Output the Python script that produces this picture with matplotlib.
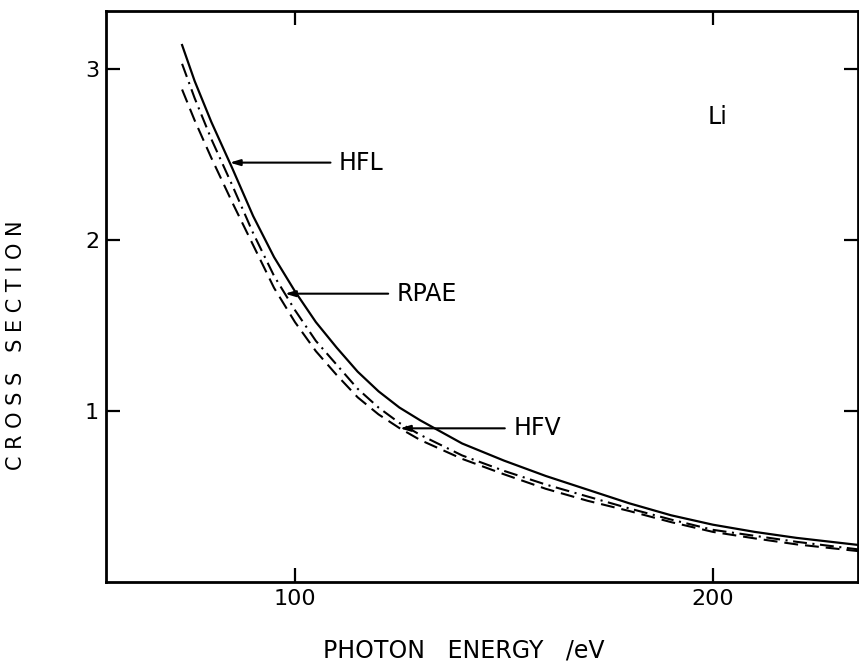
import numpy as np
import matplotlib
matplotlib.use("Agg")
import matplotlib.pyplot as plt

plt.rcParams['font.family'] = ['DejaVu Sans']
plt.rcParams['lines.scale_dashes'] = False

# Photon energy (eV)
energy = [73, 76, 80, 85, 90, 95, 100, 105, 110, 115, 120, 125, 130, 140,
          150, 160, 170, 180, 190, 200, 210, 220, 235]
# Cross sections
hfl = [3.14, 2.93, 2.69, 2.42, 2.14, 1.90, 1.70, 1.52, 1.37, 1.23, 1.115, 1.02,
       0.945, 0.81, 0.71, 0.62, 0.54, 0.46, 0.39, 0.335, 0.293, 0.258, 0.216]
rpae = [3.03, 2.83, 2.59, 2.32, 2.04, 1.79, 1.59, 1.41, 1.27, 1.13, 1.02, 0.93,
        0.86, 0.74, 0.65, 0.57, 0.50, 0.43, 0.365, 0.305, 0.27, 0.235, 0.19]
hfv = [2.88, 2.70, 2.48, 2.22, 1.97, 1.72, 1.52, 1.35, 1.21, 1.08, 0.98, 0.90,
       0.83, 0.72, 0.63, 0.545, 0.475, 0.415, 0.35, 0.293, 0.255, 0.22, 0.18]

xticks = [100, 200]
yticks = [1, 2, 3]

W, H = 859, 661
fig = plt.figure(figsize=(W / 100, H / 100), dpi=100)
left, right, bottom, top = 106, 858, 582, 11
ax = fig.add_axes([left / W, 1 - bottom / H, (right - left) / W, (bottom - top) / H])

ax.plot(energy, hfl, color='black', lw=1.6, ls='-')
ax.plot(energy, rpae, color='black', lw=1.5, ls=(0, (10, 4, 1.5, 4)))
ax.plot(energy, hfv, color='black', lw=1.5, ls=(0, (10, 5)))

ax.set_xlim(54.8, 234.7)
ax.set_ylim(0, 3.339)
ax.set_xticks(xticks)
ax.set_yticks(yticks)
ax.tick_params(direction='in', length=10, width=1.6, top=True, right=True,
               labelsize=16, pad=5)
for s in ax.spines.values():
    s.set_linewidth(2.0)

arrow = dict(arrowstyle='-|>,head_length=0.5,head_width=0.15', color='black',
             lw=1.5, shrinkA=4, shrinkB=0, mutation_scale=12)

def mark(label, xs, ys, xp, xt):
    yp = float(np.interp(xp, xs, ys))
    ax.annotate(label, xy=(xp, yp), xytext=(xt, yp), ha='left', va='center',
                fontsize=17, arrowprops=arrow)

mark('HFL', energy, hfl, 84.4, 110.5)
mark('RPAE', energy, rpae, 97.6, 124.3)
mark('HFV', energy, hfv, 125.1, 152.2)

ax.text(201, 2.72, 'Li', fontsize=17, ha='center', va='center')

fig.text(464 / W, 1 - 650 / H, 'PHOTON   ENERGY   /eV', fontsize=17,
         ha='center', va='center')
fig.text(16 / W, 1 - 345 / H, 'C R O S S   S E C T I O N', fontsize=15,
         ha='center', va='center', rotation=90)

fig.savefig('out.png', dpi=100)
